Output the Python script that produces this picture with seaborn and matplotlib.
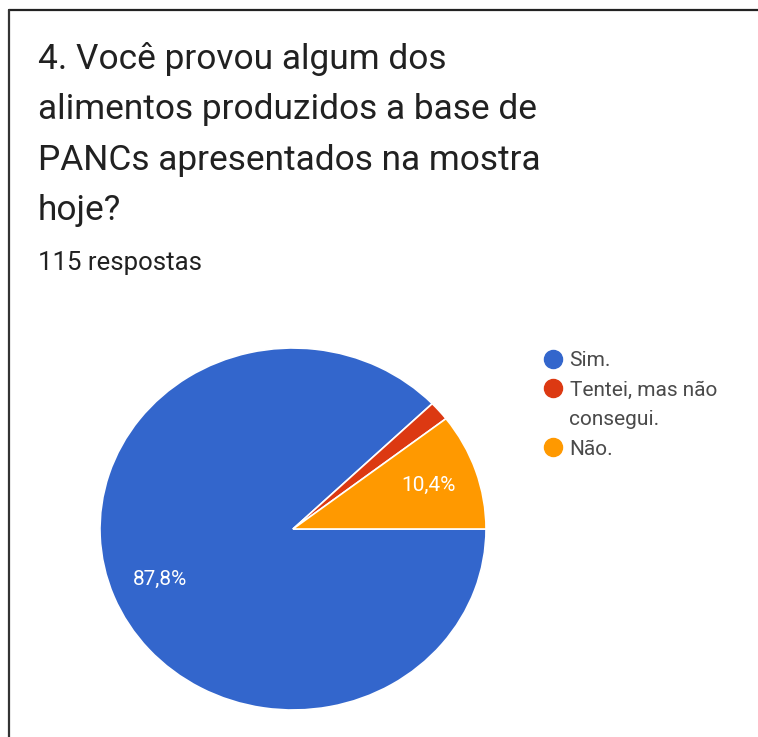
import textwrap
import matplotlib
matplotlib.use("Agg")
import matplotlib.pyplot as plt
from matplotlib.lines import Line2D
import seaborn as sns

sns.set_style("white")
plt.rcParams['font.family'] = ['Roboto', 'DejaVu Sans']

# survey answers (115 respostas)
answers = ["Sim.", "Tentei, mas não consegui.", "Não."]
counts = [101, 2, 12]
colors = ["#3366cc", "#dc3912", "#ff9900"]
title = "4. Você provou algum dos\nalimentos produzidos a base de\nPANCs apresentados na mostra\nhoje?"
subtitle = "115 respostas"


def pct_label(p):
    if p < 5:
        return ""
    return f"{p:.1f}".replace(".", ",") + "%"


fig = plt.figure(figsize=(7.58, 7.37), dpi=100)
fig.patch.set_facecolor("white")

fig.text(38 / 758, 1 - 42 / 737, title, fontsize=25.4, color="#212121",
         va="top", ha="left", linespacing=1.67)
fig.text(38 / 758, 1 - 263 / 737, subtitle, fontsize=18.5, color="#212121",
         va="center", ha="left")

ax = fig.add_axes([100 / 758, 1 - 710 / 737, 386 / 758, 362 / 737])
wedges, texts, autotexts = ax.pie(counts, colors=colors, startangle=0, counterclock=False,
                                  autopct=pct_label, pctdistance=0.74, radius=1,
                                  wedgeprops={"edgecolor": "white", "linewidth": 1.2},
                                  textprops={"color": "white", "fontsize": 15})
ax.set_aspect("auto")
ax.set_xlim(-1, 1)
ax.set_ylim(-1, 1)
# Google places the big slice's label on the left side
autotexts[0].set_position((-0.69, -0.28))

# legend: wrapped labels, the marker sits on the first line only
handles, labels = [], []
for name, c in zip(answers, colors):
    for i, line in enumerate(textwrap.wrap(name, 15)):
        handles.append(Line2D([], [], marker="o", linestyle="", markersize=13,
                              color=c if i == 0 else "none"))
        labels.append(line)
leg = fig.legend(handles, labels, loc="upper left", bbox_to_anchor=(532 / 758, 1 - 343 / 737),
                 frameon=False, fontsize=15, handletextpad=0.2, labelspacing=0.5,
                 handlelength=1.2, borderaxespad=0)
for t in leg.get_texts():
    t.set_color("#4a4a4a")

# screenshot frame
fig.add_artist(Line2D([9 / 758, 1], [1 - 9.5 / 737, 1 - 9.5 / 737], color="#222222", linewidth=1.6))
fig.add_artist(Line2D([9 / 758, 9 / 758], [0, 1 - 9.5 / 737], color="#333333", linewidth=1.6))

fig.savefig("out.png", dpi=100, facecolor="white")
